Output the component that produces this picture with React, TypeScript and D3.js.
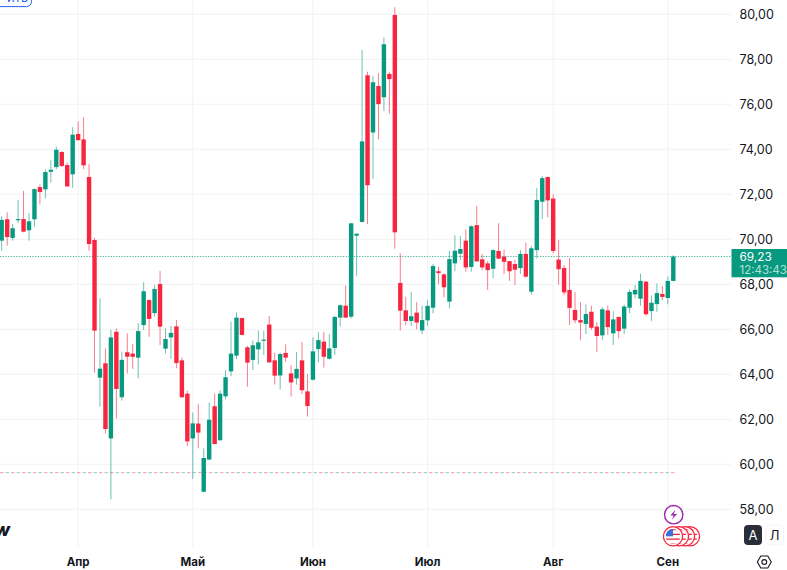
import * as d3 from "d3";

// daily candles, left to right
const open = [
  69.94, 70.89, 70.06, 70.87, 70.9, 70.4, 70.89, 72.32, 72.22, 73.0,
  73.21, 73.88, 73.3, 72.89, 74.68, 74.44, 72.77, 69.97, 63.85, 64.49,
  61.15, 65.89, 62.98, 64.98, 64.92, 64.74, 66.19, 67.3, 66.72, 68.01,
  65.14, 65.64, 66.13, 64.62, 63.14, 61.15, 61.81, 58.78, 60.21, 62.58,
  61.07, 63.02, 64.13, 64.83, 66.5, 65.2, 64.64, 65.11, 65.5, 66.21,
  64.62, 63.95, 64.95, 64.04, 63.82, 64.62, 63.24, 63.76, 65.12, 65.45,
  64.69, 65.17, 66.52, 67.05, 66.56, 70.16, 70.77, 77.29, 74.75, 76.81,
  76.31, 77.35, 79.97, 68.06, 66.84, 66.37, 66.74, 65.95, 66.4, 66.96,
  68.58, 68.44, 67.23, 68.93, 69.36, 69.94, 68.77, 70.63, 69.11, 68.93,
  68.69, 69.48, 69.23, 69.03, 68.9, 68.72, 69.35, 67.67, 69.52, 71.67,
  72.77, 71.81, 69.1, 68.72, 67.75, 66.86, 66.41, 66.24, 66.78, 66.12,
  65.73, 66.84, 65.82, 66.55, 66.03, 66.96, 67.55, 67.36, 68.12, 66.81,
  67.12, 67.57, 67.39, 68.15,
];
const high = [
  71.03, 71.2, 70.68, 71.75, 72.15, 71.17, 72.26, 72.44, 73.11, 73.51,
  74.12, 73.92, 73.43, 74.98, 75.24, 75.42, 73.35, 70.07, 67.38, 65.15,
  65.97, 66.04, 65.01, 65.82, 65.35, 66.27, 68.09, 67.33, 67.97, 68.59,
  66.04, 66.15, 66.41, 64.75, 63.27, 62.3, 62.67, 60.71, 62.74, 63.15,
  63.3, 64.19, 66.34, 66.75, 66.52, 65.26, 65.5, 65.94, 65.94, 66.59,
  64.96, 64.96, 65.33, 64.41, 64.99, 65.44, 64.01, 65.64, 65.88, 65.88,
  65.79, 66.59, 67.11, 67.95, 70.73, 70.25, 78.41, 77.45, 77.26, 77.39,
  78.98, 77.45, 80.31, 69.38, 67.45, 67.67, 67.2, 67.04, 67.3, 68.9,
  68.78, 68.49, 69.48, 70.18, 70.15, 70.44, 70.62, 71.48, 69.35, 69.03,
  69.55, 70.71, 69.55, 69.03, 69.08, 69.52, 69.85, 69.7, 72.28, 72.81,
  72.78, 72.0, 69.97, 68.86, 69.17, 67.66, 67.21, 67.11, 67.05, 66.31,
  66.98, 67.05, 66.8, 66.55, 67.1, 67.78, 67.98, 68.47, 68.13, 67.5,
  68.04, 67.92, 68.34, 69.29,
];
const low = [
  69.49, 69.72, 69.94, 70.72, 70.31, 69.94, 70.56, 71.55, 71.82, 72.52,
  73.12, 73.21, 72.34, 72.29, 74.37, 73.12, 69.49, 64.07, 62.56, 61.38,
  58.44, 62.04, 62.83, 64.04, 64.24, 63.82, 65.97, 65.67, 66.56, 65.3,
  64.93, 64.68, 64.27, 62.96, 60.81, 59.35, 60.71, 58.75, 60.19, 60.89,
  61.05, 62.89, 63.92, 64.68, 65.73, 63.45, 64.19, 64.44, 64.86, 64.52,
  63.55, 63.33, 64.55, 63.01, 63.54, 63.12, 62.12, 63.72, 64.53, 64.3,
  64.66, 64.86, 66.12, 66.5, 66.49, 68.38, 70.75, 70.67, 72.68, 74.44,
  75.7, 75.58, 69.58, 65.95, 66.18, 66.15, 66.0, 65.79, 66.15, 66.71,
  68.01, 67.42, 66.93, 68.58, 69.08, 68.56, 68.56, 69.0, 68.63, 67.75,
  68.28, 69.12, 68.46, 68.15, 67.98, 68.46, 68.29, 67.54, 69.15, 70.9,
  70.98, 69.38, 67.98, 67.51, 66.19, 66.27, 65.52, 65.79, 65.97, 64.99,
  65.52, 65.75, 65.3, 65.6, 65.79, 66.72, 67.38, 67.04, 66.61, 66.37,
  66.78, 67.29, 67.11, 68.13,
];
const close = [
  70.86, 70.1, 70.49, 70.9, 70.34, 70.8, 72.23, 72.1, 72.99, 73.09,
  73.98, 73.26, 72.35, 74.65, 74.41, 73.29, 69.79, 65.94, 64.25, 61.57,
  65.64, 63.35, 64.64, 64.78, 64.78, 65.92, 67.69, 66.46, 67.79, 66.12,
  65.57, 65.84, 64.5, 62.98, 61.02, 61.82, 61.41, 60.28, 61.98, 60.9,
  63.14, 63.87, 64.92, 66.52, 65.75, 64.52, 65.29, 65.42, 65.54, 64.53,
  63.94, 64.9, 64.74, 63.64, 64.24, 63.29, 62.59, 65.02, 65.52, 64.78,
  65.15, 66.55, 67.07, 66.52, 70.71, 70.25, 74.35, 72.4, 76.98, 76.01,
  78.67, 77.12, 70.31, 66.83, 66.37, 66.58, 66.3, 66.41, 67.04, 68.81,
  68.5, 67.87, 69.12, 69.49, 69.57, 68.75, 70.58, 69.02, 68.75, 68.63,
  69.52, 69.14, 69.0, 68.58, 68.65, 69.35, 68.34, 69.6, 71.75, 72.72,
  71.73, 69.48, 68.67, 67.64, 66.95, 66.4, 66.3, 66.68, 66.07, 65.7,
  66.89, 66.1, 66.44, 65.92, 67.01, 67.66, 67.75, 68.15, 66.67, 67.18,
  67.61, 67.44, 68.15, 69.23,
];

const priceTicks = [58, 60, 62, 64, 66, 68, 70, 72, 74, 76, 78, 80];
const monthLabels = ["Апр", "Май", "Июн", "Июл", "Авг", "Сен"];
const monthIndex = [14, 35, 57, 78, 101, 122];
const lastPrice = 69.23;
const lastPriceLabel = "69,23";
const countdown = "12:43:43";
const lowLevel = 59.63;

const UP = "#089981";
const DOWN = "#f7253f";
const GRID = "#f3f4f6";
const TEXT = "#131722";
const FONT = "Inter, Roboto, 'Liberation Sans', sans-serif";

const paneRight = 731;
const x = d3.scaleLinear().domain([0, 123]).range([1.7, 673.3]);
const y = d3.scaleLinear().domain([58, 80]).range([509.3, 14.3]);
const fmt = (v: number) => d3.format(".2f")(v).replace(".", ",");
const BODY_W = 4.4;

function FlagCoin({ cx, cy, id }: { cx: number; cy: number; id: string }) {
  const r = 7.4;
  const stripes = d3.range(-r, r, 2.4);
  return (
    <g>
      <circle cx={cx} cy={cy} r={9.6} fill="#fff" stroke={DOWN} strokeWidth={1.3} />
      <clipPath id={id}>
        <circle cx={cx} cy={cy} r={r} />
      </clipPath>
      <g clipPath={`url(#${id})`}>
        <rect x={cx - r} y={cy - r} width={2 * r} height={2 * r} fill="#fff" />
        {stripes.map((s, i) =>
          i % 2 === 0 ? (
            <rect key={s} x={cx - r} y={cy + s} width={2 * r} height={1.3} fill={DOWN} />
          ) : null
        )}
        <rect x={cx - r} y={cy - r} width={r} height={r} fill="#3d6fd6" />
      </g>
    </g>
  );
}

export default function App() {
  const lastY = Math.floor(y(lastPrice)) + 0.5;
  return (
    <svg
      width={787}
      height={570}
      viewBox="0 0 787 570"
      style={{ position: "absolute", top: 0, left: 0, display: "block", background: "#fff" }}
      fontFamily={FONT}
    >
      {/* grid */}
      {priceTicks.map((t) => (
        <line key={t} x1={0} x2={paneRight} y1={y(t)} y2={y(t)} stroke={GRID} strokeWidth={1.2} />
      ))}
      {monthIndex.map((i) => (
        <line key={i} x1={x(i)} x2={x(i)} y1={0} y2={548} stroke={GRID} strokeWidth={1.2} />
      ))}

      {/* order level, two colours dashed in turn */}
      <line x1={0} x2={676} y1={y(lowLevel)} y2={y(lowLevel)} stroke={DOWN} strokeOpacity={0.45} strokeWidth={1} strokeDasharray="3.5 7.5" />
      <line x1={5.5} x2={676} y1={y(lowLevel)} y2={y(lowLevel)} stroke={UP} strokeOpacity={0.45} strokeWidth={1} strokeDasharray="3.5 7.5" />

      {/* last price line */}
      <line
        x1={0}
        x2={paneRight}
        y1={lastY}
        y2={lastY}
        stroke={UP}
        strokeOpacity={0.7}
        strokeWidth={1}
        strokeDasharray="1.3 1.4"
      />

      {/* candles */}
      {open.map((o, i) => {
        const c = close[i];
        const color = c >= o ? UP : DOWN;
        const top = y(Math.max(o, c));
        const h = Math.max(1.2, y(Math.min(o, c)) - top);
        return (
          <g key={i}>
            <line x1={x(i)} x2={x(i)} y1={y(high[i])} y2={y(low[i])} stroke={color} strokeOpacity={0.6} strokeWidth={1} />
            <rect x={x(i) - BODY_W / 2} y={top} width={BODY_W} height={h} fill={color} />
          </g>
        );
      })}

      {/* price axis */}
      {priceTicks.map((t) => (
        <text key={t} x={739.5} y={y(t)} dy="0.35em" fontSize={12.5} fill={TEXT}>
          {fmt(t)}
        </text>
      ))}
      <rect x={731.5} y={249} width={56} height={28.3} fill={UP} />
      <text x={739.5} y={256.4} dy="0.35em" fontSize={11.8} fill="#fff">
        {lastPriceLabel}
      </text>
      <text x={739.5} y={270} dy="0.35em" fontSize={11.5} fill="#fff" fillOpacity={0.7}>
        {countdown}
      </text>

      {/* time axis */}
      {monthLabels.map((m, i) => (
        <text key={m} x={x(monthIndex[i])} y={562} dy="0.35em" textAnchor="middle" fontSize={11.5} fontWeight={700} fill={TEXT}>
          {m}
        </text>
      ))}

      {/* clipped button top left */}
      <rect x={-12} y={-20} width={43.5} height={26.6} rx={5} fill="#fff" stroke="#2962ff" strokeWidth={1} />
      <text x={7} y={2} fontSize={13} fill="#2962ff">
        ить
      </text>

      {/* end of the logo */}
      <text x={10} y={536} textAnchor="end" fontSize={18} fontWeight={800} fontStyle="italic" fill={TEXT}>
        w
      </text>

      {/* events */}
      <circle cx={673.7} cy={514.7} r={9.2} fill="#fff" stroke="#9c27b0" strokeWidth={1.4} />
      <path
        d="M675.6 509.6 L670.4 515.4 L673.7 515.4 L671.8 519.8 L677 514 L673.7 514 Z"
        fill="#9c27b0"
      />
      {[690, 685, 679, 673].map((cx, i) => (
        <FlagCoin key={cx} cx={cx} cy={536.3} id={`coin${i}`} />
      ))}

      {/* scale buttons */}
      <rect x={744} y={525} width={18} height={20} rx={4} fill="#2a2e39" />
      <text x={753} y={535} dy="0.36em" textAnchor="middle" fontSize={13} fill="#fff">
        А
      </text>
      <rect x={766} y={525} width={17.5} height={20} rx={4} fill="#fff" stroke="#f0f3fa" />
      <text x={774.7} y={535} dy="0.36em" textAnchor="middle" fontSize={13} fill={TEXT}>
        Л
      </text>

      {/* settings */}
      <path
        d={d3.line()(d3.range(6).map((k) => {
          const a = (Math.PI / 3) * k;
          return [764.3 + 7 * Math.cos(a), 562 + 7 * Math.sin(a)] as [number, number];
        }))! + "Z"}
        fill="none"
        stroke={TEXT}
        strokeWidth={1.1}
      />
      <circle cx={764.3} cy={562} r={2.4} fill="none" stroke={TEXT} strokeWidth={1.1} />
    </svg>
  );
}
